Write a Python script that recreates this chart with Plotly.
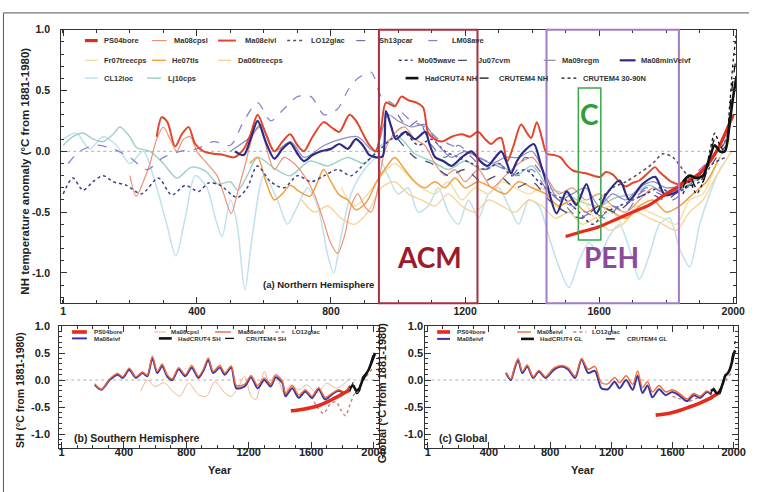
import plotly.graph_objects as go

# ======================= DATA =======================
x_ticks = [1, 400, 800, 1200, 1600, 2000]
x_tick_labels = ["1", "400", "800", "1200", "1600", "2000"]
y_ticks = [-1.0, -0.5, 0.0, 0.5, 1.0]
y_tick_labels = ["-1.0", "-0.5", "0.0", "0.5", "1.0"]

# ---------- (a) Northern Hemisphere ----------
cl12loc_year = [1, 40, 80, 120, 160, 200, 240, 280, 310, 337, 365, 395, 430, 455, 475, 500, 520, 543, 565, 600,
                640, 670, 700, 730, 760, 790, 808, 830, 860, 900, 940, 970, 1000, 1030, 1060, 1090, 1120, 1150,
                1180, 1210, 1240, 1270, 1300, 1330, 1360, 1390, 1420, 1450, 1480, 1510, 1540, 1570, 1600, 1630,
                1660, 1690, 1720, 1750, 1780, 1810, 1840, 1870, 1900, 1930, 1960, 1973]
cl12loc_val = [0.1, 0.15, 0.02, 0.12, 0.05, -0.1, 0.0, -0.3, -0.6, -0.86, -0.55, -0.2, -0.3, -0.55, -0.7, -0.4, -0.6,
               -1.14, -0.7, -0.2, -0.4, -0.6, -0.45, -0.3, -0.45, -0.85, -1.0, -0.7, -0.35, -0.15, -0.05, -0.2,
               -0.35, -0.3, -0.5, -0.45, -0.3, -0.5, -0.6, -0.4, -0.55, -0.35, -0.3, -0.45, -0.6, -0.4, -0.45,
               -0.7, -0.95, -1.12, -0.9, -0.75, -0.85, -0.7, -0.6, -0.8, -1.05, -0.85, -0.6, -0.55, -0.8, -0.95,
               -0.6, -0.35, -0.15, -0.1]

lj10cps_year = [1, 30, 60, 90, 120, 150, 170, 200, 220, 260, 300, 340, 384, 425, 463, 500, 522, 550, 581, 631, 678,
                737, 790, 850, 900, 950, 1000, 1050, 1100, 1150, 1200, 1250, 1300, 1350, 1400, 1450, 1500, 1550,
                1600, 1650, 1700, 1750, 1800, 1850, 1900, 1950, 1990]
lj10cps_val = [0.05, 0.12, 0.15, 0.1, 0.08, 0.14, 0.2, 0.12, 0.03, 0.0, -0.1, -0.22, -0.13, -0.16, -0.27, -0.25,
               -0.32, -0.2, -0.05, -0.14, -0.2, -0.08, -0.12, -0.05, -0.1, 0.05, 0.12, -0.02, -0.08, -0.15, -0.08,
               -0.15, -0.1, -0.2, -0.12, -0.3, -0.35, -0.42, -0.45, -0.38, -0.35, -0.28, -0.35, -0.3, -0.2, 0.0, 0.1]

fr07_year = [831, 870, 910, 950, 990, 1030, 1070, 1110, 1150, 1190, 1230, 1270, 1310, 1350, 1390, 1430, 1470, 1510,
             1550, 1590, 1630, 1670, 1710, 1750, 1790, 1830, 1870, 1910, 1950, 1990]
fr07_val = [-0.3, -0.45, -0.35, -0.2, -0.1, -0.2, -0.3, -0.35, -0.25, -0.4, -0.3, -0.35, -0.25, -0.3, -0.35, -0.3,
            -0.45, -0.5, -0.4, -0.55, -0.45, -0.6, -0.45, -0.5, -0.55, -0.6, -0.4, -0.35, -0.1, 0.1]

da06_year = [713, 750, 790, 830, 870, 910, 950, 990, 1030, 1070, 1110, 1150, 1190, 1230, 1270, 1310, 1350, 1390,
             1430, 1470, 1510, 1550, 1590, 1630, 1670, 1710, 1750, 1790, 1830, 1870, 1910, 1950, 1995]
da06_val = [-0.4, -0.5, -0.45, -0.55, -0.6, -0.5, -0.3, -0.25, -0.35, -0.4, -0.45, -0.35, -0.45, -0.5, -0.4, -0.45,
            -0.5, -0.4, -0.45, -0.55, -0.5, -0.6, -0.55, -0.65, -0.6, -0.5, -0.55, -0.6, -0.65, -0.5, -0.4, -0.2, 0.0]

he07_year = [558, 581, 606, 631, 655, 678, 705, 737, 760, 778, 800, 825, 850, 874, 895, 914, 934, 960, 990, 1020,
             1050, 1080, 1110, 1140, 1170, 1200, 1240, 1280, 1320, 1360, 1400, 1440, 1480, 1520, 1560, 1600, 1640,
             1680, 1720, 1760, 1800, 1840, 1880, 1920, 1960]
he07_val = [-0.1, -0.05, -0.25, -0.4, -0.35, -0.28, -0.33, -0.37, -0.25, -0.15, -0.25, -0.36, -0.4, -0.48, -0.45,
            -0.38, -0.26, -0.15, -0.05, -0.15, -0.25, -0.3, -0.25, -0.3, -0.22, -0.3, -0.25, -0.3, -0.35, -0.25,
            -0.3, -0.35, -0.45, -0.4, -0.5, -0.45, -0.5, -0.55, -0.45, -0.4, -0.5, -0.45, -0.35, -0.25, -0.05]

mo05_year = [1, 30, 60, 90, 120, 150, 190, 235, 285, 325, 365, 405, 435, 470, 520, 550, 580, 620, 660, 700, 740,
             780, 820, 860, 900, 940, 980, 1020, 1060, 1100, 1140, 1180, 1220, 1260, 1300, 1340, 1380, 1420, 1460,
             1500, 1540, 1580, 1620, 1660, 1700, 1740, 1780, 1820, 1860, 1900, 1940, 1979]
mo05_val = [-0.35, -0.22, -0.32, -0.25, -0.2, -0.25, -0.28, -0.35, -0.22, -0.36, -0.28, -0.33, -0.26, -0.28, -0.38,
            -0.3, -0.12, -0.25, -0.3, -0.2, -0.25, -0.2, -0.15, -0.2, -0.1, 0.0, 0.1, 0.15, 0.05, 0.1, 0.0, -0.05,
            -0.1, -0.15, -0.1, -0.2, -0.15, -0.25, -0.35, -0.4, -0.5, -0.6, -0.5, -0.45, -0.4, -0.35, -0.3, -0.35,
            -0.3, -0.25, -0.1, -0.05]

lm08_year = [16, 50, 100, 150, 200, 250, 300, 350, 400, 450, 500, 540, 581, 620, 660, 700, 740, 780, 820, 850, 880,
             920, 950, 980, 1000, 1040, 1080, 1120, 1160, 1200, 1240, 1280, 1320, 1360, 1400, 1440, 1480, 1520,
             1560, 1600, 1640, 1680, 1720, 1760, 1800, 1840, 1880, 1920, 1935]
lm08_val = [-0.1, 0.0, 0.05, 0.02, -0.05, -0.15, -0.05, 0.0, 0.02, 0.08, 0.05, 0.25, 0.4, 0.25, 0.35, 0.45, 0.45,
            0.3, 0.35, 0.5, 0.6, 0.65, 0.45, 0.4, 0.35, 0.25, 0.2, 0.1, 0.05, 0.0, -0.05, -0.1, -0.15, -0.2, -0.15,
            -0.3, -0.4, -0.45, -0.5, -0.55, -0.45, -0.5, -0.35, -0.3, -0.35, -0.3, -0.2, -0.1, -0.05]

ju07_year = [1000, 1050, 1100, 1150, 1200, 1250, 1300, 1350, 1400, 1450, 1500, 1550, 1600, 1650, 1700, 1750, 1800,
             1850, 1900, 1950, 1980]
ju07_val = [0.1, -0.05, -0.1, -0.2, -0.15, -0.25, -0.2, -0.3, -0.25, -0.4, -0.5, -0.55, -0.45, -0.5, -0.4, -0.35,
            -0.4, -0.3, -0.25, -0.05, 0.05]

sh13_year = [1000, 1030, 1060, 1100, 1140, 1180, 1220, 1260, 1300, 1340, 1380, 1420, 1460, 1500, 1540, 1580, 1620,
             1660, 1700, 1740, 1780, 1820, 1860, 1900, 1940, 1970, 1995]
sh13_val = [0.3, 0.2, 0.25, 0.05, -0.05, 0.05, -0.05, -0.15, -0.1, -0.2, -0.05, -0.15, -0.35, -0.45, -0.55, -0.5,
            -0.55, -0.45, -0.4, -0.3, -0.35, -0.4, -0.3, -0.2, 0.0, 0.05, 0.25]

ma08cpsl_nh_year = [200, 219, 240, 260, 280, 300, 320, 340, 360, 380, 400, 430, 460, 480, 502, 525, 545, 570, 590,
                    610, 631, 660, 690, 720, 750, 775, 800, 820, 840, 860, 880, 900, 920, 940, 960, 990, 1020, 1050,
                    1080, 1110, 1140, 1170, 1200, 1240, 1280, 1320, 1360, 1400, 1440, 1480, 1520, 1560, 1600, 1640,
                    1680, 1720, 1760, 1800, 1840, 1850]
ma08cpsl_nh_val = [-0.2, -0.37, -0.25, -0.1, 0.1, 0.2, 0.1, 0.0, 0.1, 0.12, 0.0, -0.1, -0.2, -0.35, -0.51, -0.3,
                   -0.1, 0.15, 0.2, 0.0, -0.15, -0.05, -0.1, -0.2, -0.35, -0.55, -0.76, -0.84, -0.7, -0.45, -0.35,
                   -0.45, -0.5, -0.3, 0.0, 0.15, 0.2, 0.1, 0.05, -0.1, -0.2, -0.15, -0.25, -0.15, -0.3, -0.2, -0.1,
                   -0.05, -0.2, -0.35, -0.3, -0.4, -0.35, -0.45, -0.5, -0.4, -0.3, -0.35, -0.3, -0.25]

ma09regm_year = [500, 560, 590, 630, 680, 720, 780, 830, 880, 930, 970, 1000, 1040, 1080, 1120, 1160, 1200, 1240,
                 1280, 1320, 1360, 1400, 1440, 1480, 1520, 1560, 1600, 1640, 1680, 1720, 1760, 1800, 1849]
ma09regm_val = [0.0, 0.12, 0.22, 0.0, 0.08, -0.05, 0.05, 0.1, 0.12, 0.0, 0.3, 0.25, 0.2, 0.22, 0.05, -0.05, 0.0,
                -0.05, -0.1, -0.05, -0.05, 0.0, -0.2, -0.4, -0.35, -0.3, -0.45, -0.35, -0.4, -0.3, -0.25, -0.3,
                -0.28]

lo12_nh_year = [1600, 1640, 1680, 1720, 1760, 1790, 1820, 1850, 1880, 1910, 1940, 1970, 1990]
lo12_nh_val = [-0.4, -0.3, -0.25, -0.18, -0.1, -0.02, -0.05, -0.15, -0.25, -0.2, -0.05, 0.05, 0.2]

ma08eivl_nh_year = [280, 295, 312, 335, 355, 375, 395, 420, 450, 480, 510, 540, 560, 581, 605, 631, 655, 678, 700,
                    719, 745, 778, 800, 825, 855, 875, 896, 915, 934, 950, 964, 990, 1010, 1031, 1055, 1075, 1090,
                    1110, 1131, 1160, 1190, 1215, 1238, 1260, 1278, 1295, 1308, 1326, 1345, 1367, 1385, 1397, 1414,
                    1430, 1444, 1465, 1485, 1505, 1523, 1560, 1603, 1620, 1640, 1660, 1679, 1700, 1720, 1745, 1767,
                    1780, 1797, 1815, 1838, 1850]
ma08eivl_nh_val = [0.12, 0.28, 0.24, 0.04, 0.14, 0.2, 0.06, 0.0, -0.02, -0.03, -0.05, 0.02, 0.14, 0.3, 0.15, 0.0,
                   0.08, 0.14, 0.05, 0.0, 0.12, 0.24, 0.2, 0.16, 0.3, 0.25, 0.14, 0.05, 0.0, 0.2, 0.4, 0.37, 0.45,
                   0.42, 0.4, 0.36, 0.15, 0.1, 0.08, 0.12, 0.14, 0.12, 0.16, 0.1, 0.06, 0.1, 0.11, -0.08, 0.05,
                   0.22, 0.15, 0.11, 0.24, 0.1, -0.02, -0.03, -0.05, -0.12, -0.16, -0.18, -0.21, -0.17, -0.19,
                   -0.25, -0.29, -0.26, -0.24, -0.18, -0.13, -0.17, -0.21, -0.25, -0.27, -0.25]

ma08minv_nh_year = [513, 540, 560, 581, 605, 631, 655, 678, 700, 719, 745, 770, 800, 825, 850, 874, 895, 914, 935,
                    954, 964, 980, 994, 1022, 1051, 1081, 1095, 1111, 1135, 1160, 1190, 1219, 1245, 1267, 1290, 1308,
                    1325, 1337, 1355, 1376, 1405, 1425, 1444, 1473, 1503, 1532, 1562, 1591, 1620, 1661, 1690, 1729,
                    1767, 1797, 1838, 1850]
ma08minv_nh_val = [0.0, -0.03, 0.1, 0.25, 0.08, -0.06, 0.02, 0.07, -0.02, -0.08, -0.03, 0.0, 0.02, 0.06, 0.02, 0.1,
                   0.05, -0.03, -0.05, -0.04, 0.33, 0.2, 0.1, 0.16, 0.1, 0.16, 0.05, -0.05, -0.08, -0.12, -0.05, 0.0,
                   -0.08, -0.12, -0.05, 0.0, -0.1, -0.18, -0.08, 0.0, 0.06, -0.1, -0.27, -0.51, -0.33, -0.44, -0.27,
                   -0.51, -0.36, -0.24, -0.4, -0.27, -0.21, -0.36, -0.32, -0.25]

ps04_nh_year = [1500, 1550, 1600, 1650, 1700, 1750, 1800, 1850, 1900, 1950, 2000]
ps04_nh_val = [-0.70, -0.66, -0.62, -0.56, -0.50, -0.44, -0.35, -0.27, -0.18, 0.0, 0.3]

hadcrut_nh_year = [1850, 1870, 1890, 1910, 1930, 1945, 1960, 1975, 1990, 2000, 2010]
hadcrut_nh_val = [-0.25, -0.2, -0.22, -0.2, -0.05, 0.05, 0.0, 0.0, 0.25, 0.45, 0.62]
crutem_nh_year = [1850, 1870, 1890, 1910, 1930, 1945, 1960, 1975, 1990, 2000, 2010]
crutem_nh_val = [-0.3, -0.2, -0.3, -0.25, -0.05, 0.1, 0.0, 0.0, 0.35, 0.6, 0.8]
crutem3090_year = [1850, 1870, 1890, 1910, 1930, 1945, 1960, 1975, 1990, 2000, 2010]
crutem3090_val = [-0.35, -0.25, -0.35, -0.25, 0.0, 0.15, 0.05, 0.0, 0.4, 0.75, 0.98]

# ---------- (b) Southern Hemisphere ----------
ps04_sh_year = [1470, 1550, 1640, 1720, 1800, 1850]
ps04_sh_val = [-0.57, -0.54, -0.48, -0.38, -0.26, -0.18]
ma08cpsl_sh_year = [509, 550, 598, 660, 709, 760, 814, 877, 930, 983, 1047, 1088, 1130, 1173, 1215, 1246, 1300,
                    1331, 1373, 1426, 1468, 1521, 1573, 1637, 1700, 1763, 1827, 1848]
ma08cpsl_sh_val = [-0.2, 0.0, -0.12, -0.05, -0.2, -0.3, -0.05, -0.27, -0.3, -0.03, -0.24, -0.3, -0.15, 0.07, -0.3,
                   -0.36, 0.16, -0.05, 0.1, -0.24, -0.09, -0.18, -0.09, -0.24, -0.06, -0.15, -0.03, 0.04]
ma08eivf_sh_year = [213, 255, 308, 360, 392, 434, 477, 519, 550, 582, 614, 645, 677, 709, 751, 793, 835, 877, 909,
                    941, 972, 1015, 1047, 1088, 1120, 1173, 1215, 1257, 1300, 1341, 1373, 1415, 1436, 1479, 1521,
                    1563, 1605, 1648, 1690, 1732, 1775, 1816, 1848]
ma08eivf_sh_val = [-0.09, -0.18, 0.0, 0.1, 0.04, 0.19, 0.04, 0.13, 0.07, 0.4, 0.13, 0.26, 0.07, 0.0, 0.2, 0.07,
                   0.23, 0.04, 0.17, 0.37, 0.13, 0.23, 0.1, 0.23, -0.15, -0.12, 0.05, -0.15, 0.0, -0.12, 0.05, -0.05,
                   -0.3, -0.15, -0.33, -0.21, -0.33, -0.17, -0.36, -0.27, -0.2, -0.24, -0.12]
ma08eivl_sh_year = [213, 255, 308, 360, 392, 434, 477, 519, 550, 582, 614, 645, 677, 709, 751, 793, 835, 877, 909,
                    941, 972, 1015, 1047, 1088, 1120, 1173, 1215, 1257, 1300, 1341, 1373, 1415, 1436, 1479, 1521,
                    1563, 1605, 1648, 1690, 1732, 1775, 1816, 1848]
ma08eivl_sh_val = [-0.07, -0.17, 0.02, 0.12, 0.06, 0.22, 0.06, 0.15, 0.09, 0.44, 0.16, 0.3, 0.1, 0.02, 0.23, 0.1,
                   0.27, 0.07, 0.2, 0.41, 0.16, 0.27, 0.13, 0.26, -0.1, -0.08, 0.08, -0.1, 0.04, -0.08, 0.1, -0.02,
                   -0.25, -0.1, -0.28, -0.18, -0.3, -0.14, -0.32, -0.25, -0.18, -0.22, -0.1]
lo12_sh_year = [1600, 1640, 1680, 1720, 1760, 1790, 1820, 1850, 1870, 1900, 1950, 1990]
lo12_sh_val = [-0.3, -0.5, -0.62, -0.45, -0.4, -0.55, -0.66, -0.45, -0.3, -0.15, 0.05, 0.2]
hadcrut_sh_year = [1850, 1870, 1890, 1910, 1930, 1950, 1970, 1990, 2000, 2010]
hadcrut_sh_val = [-0.15, -0.1, -0.2, -0.15, 0.0, 0.1, 0.2, 0.35, 0.42, 0.5]
crutem_sh_year = [1850, 1870, 1890, 1910, 1930, 1950, 1970, 1990, 2000, 2010]
crutem_sh_val = [-0.2, -0.05, -0.25, -0.2, 0.05, 0.12, 0.2, 0.4, 0.5, 0.6]

# ---------- (c) Global ----------
ps04_gl_year = [1490, 1550, 1600, 1650, 1700, 1750, 1800, 1850, 1900]
ps04_gl_val = [-0.65, -0.63, -0.6, -0.56, -0.51, -0.46, -0.4, -0.33, -0.24]
ma08eivf_gl_year = [512, 544, 566, 591, 619, 651, 690, 727, 770, 824, 877, 920, 964, 1006, 1049, 1093, 1135, 1178,
                    1222, 1254, 1297, 1340, 1372, 1404, 1437, 1469, 1512, 1555, 1598, 1641, 1695, 1738, 1781, 1824,
                    1856]
ma08eivf_gl_val = [0.13, 0.0, 0.19, 0.37, 0.13, 0.25, 0.04, 0.16, 0.04, 0.19, 0.25, 0.19, 0.04, 0.38, 0.13, 0.17,
                   -0.15, -0.17, -0.03, -0.15, 0.0, -0.18, 0.08, -0.24, -0.1, -0.32, -0.17, -0.28, -0.22, -0.28,
                   -0.39, -0.28, -0.33, -0.22, -0.27]
ma08eivl_gl_year = [512, 544, 566, 591, 619, 651, 690, 727, 770, 824, 877, 920, 964, 1006, 1049, 1093, 1135, 1178,
                    1222, 1254, 1297, 1340, 1372, 1404, 1437, 1469, 1512, 1555, 1598, 1641, 1695, 1738, 1781, 1824,
                    1856]
ma08eivl_gl_val = [0.14, 0.02, 0.22, 0.4, 0.16, 0.28, 0.06, 0.18, 0.06, 0.22, 0.27, 0.22, 0.07, 0.4, 0.2, 0.25,
                   -0.05, -0.07, 0.05, -0.05, 0.08, -0.08, 0.17, -0.14, -0.03, -0.22, -0.1, -0.22, -0.18, -0.24,
                   -0.35, -0.25, -0.3, -0.2, -0.25]
lo12_gl_year = [1600, 1650, 1700, 1750, 1800, 1840, 1870, 1900, 1950, 1990]
lo12_gl_val = [-0.3, -0.35, -0.4, -0.35, -0.3, -0.38, -0.3, -0.2, 0.0, 0.15]
hadcrut_gl_year = [1850, 1870, 1890, 1910, 1930, 1945, 1960, 1975, 1990, 2000, 2010]
hadcrut_gl_val = [-0.2, -0.18, -0.25, -0.2, -0.05, 0.08, 0.12, 0.2, 0.35, 0.48, 0.55]
crutem_gl_year = [1850, 1870, 1890, 1910, 1930, 1945, 1960, 1975, 1990, 2000, 2010]
crutem_gl_val = [-0.25, -0.15, -0.3, -0.25, -0.05, 0.1, 0.12, 0.22, 0.42, 0.6, 0.72]

# period boxes (years / anomaly)
acm_years = [943, 1237]
peh_years = [1443, 1838]
c_years = [1538, 1605]
c_vals = [-0.73, 0.52]

# ======================= STYLE =======================
FONT = "Liberation Sans"
TXT = "#222222"
S = {
    "PS04bore": dict(color="#e42b1c", width=3.2, dash="solid"),
    "Ma08cpsl": dict(color="#ec9274", width=1.2, dash="solid"),
    "Ma08eivl": dict(color="#e2472c", width=2.0, dash="solid"),
    "LO12glac": dict(color="#555555", width=1.5, dash="dot"),
    "Sh13pcar": dict(color="#6f6fb0", width=1.2, dash="dash"),
    "LM08ave": dict(color="#8a80d0", width=1.3, dash="dash"),
    "Fr07treecps": dict(color="#f2e0a0", width=1.4, dash="solid"),
    "He07tls": dict(color="#f1a040", width=1.5, dash="solid"),
    "Da06treecps": dict(color="#f6d49c", width=1.4, dash="solid"),
    "Mo05wave": dict(color="#3b3f8c", width=1.5, dash="dot"),
    "Ju07cvm": dict(color="#4d4d80", width=1.3, dash="dash"),
    "Ma09regm": dict(color="#8a8abd", width=1.2, dash="solid"),
    "Ma08minVeivf": dict(color="#2e2a85", width=2.2, dash="solid"),
    "CL12loc": dict(color="#c0e1ee", width=1.5, dash="solid"),
    "Lj10cps": dict(color="#9fd2c8", width=1.5, dash="solid"),
    "HadCRUT4": dict(color="#111111", width=2.6, dash="solid"),
    "CRUTEM4": dict(color="#111111", width=1.3, dash="dash"),
    "CRUTEM4d": dict(color="#111111", width=1.3, dash="dot"),
    "Ma08eivf": dict(color="#3a36a0", width=2.0, dash="solid"),
    "Ma08cpsl_s": dict(color="#f0b494", width=1.0, dash="solid"),
    "Ma08eivl_s": dict(color="#f0683a", width=1.4, dash="solid"),
    "LO12glac_s": dict(color="#c08078", width=1.4, dash="dot"),
    "PS04bore_s": dict(color="#e42b1c", width=3.6, dash="solid"),
}

fig = go.Figure()


def add(x, y, style, name, xa="x", ya="y"):
    st = S[style]
    fig.add_trace(go.Scatter(x=x, y=y, mode="lines", name=name, xaxis=xa, yaxis=ya,
                             line=dict(color=st["color"], width=st["width"], dash=st["dash"],
                                       shape="spline", smoothing=0.8),
                             showlegend=False, hoverinfo="skip"))


# panel a
add(cl12loc_year, cl12loc_val, "CL12loc", "CL12loc")
add(lj10cps_year, lj10cps_val, "Lj10cps", "Lj10cps")
add(fr07_year, fr07_val, "Fr07treecps", "Fr07treecps")
add(da06_year, da06_val, "Da06treecps", "Da06treecps")
add(he07_year, he07_val, "He07tls", "He07tls")
add(ma08cpsl_nh_year, ma08cpsl_nh_val, "Ma08cpsl", "Ma08cpsl")
add(mo05_year, mo05_val, "Mo05wave", "Mo05wave")
add(lm08_year, lm08_val, "LM08ave", "LM08ave")
add(ju07_year, ju07_val, "Ju07cvm", "Ju07cvm")
add(sh13_year, sh13_val, "Sh13pcar", "Sh13pcar")
add(ma09regm_year, ma09regm_val, "Ma09regm", "Ma09regm")
add(lo12_nh_year, lo12_nh_val, "LO12glac", "LO12glac")
add(ma08eivl_nh_year, ma08eivl_nh_val, "Ma08eivl", "Ma08eivl")
add(ma08minv_nh_year, ma08minv_nh_val, "Ma08minVeivf", "Ma08minVeivf")
add(ps04_nh_year, ps04_nh_val, "PS04bore", "PS04bore")
add(crutem3090_year, crutem3090_val, "CRUTEM4d", "CRUTEM4 30-90N")
add(crutem_nh_year, crutem_nh_val, "CRUTEM4", "CRUTEM4 NH")
add(hadcrut_nh_year, hadcrut_nh_val, "HadCRUT4", "HadCRUT4 NH")

# panel b
add(ma08cpsl_sh_year, ma08cpsl_sh_val, "Ma08cpsl_s", "Ma08cpsl", "x2", "y2")
add(lo12_sh_year, lo12_sh_val, "LO12glac_s", "LO12glac", "x2", "y2")
add(ma08eivf_sh_year, ma08eivf_sh_val, "Ma08eivf", "Ma08eivf", "x2", "y2")
add(ma08eivl_sh_year, ma08eivl_sh_val, "Ma08eivl_s", "Ma08eivl", "x2", "y2")
add(ps04_sh_year, ps04_sh_val, "PS04bore_s", "PS04bore", "x2", "y2")
add(crutem_sh_year, crutem_sh_val, "CRUTEM4", "CRUTEM4 SH", "x2", "y2")
add(hadcrut_sh_year, hadcrut_sh_val, "HadCRUT4", "HadCRUT4 SH", "x2", "y2")

# panel c
add(lo12_gl_year, lo12_gl_val, "LO12glac_s", "LO12glac", "x3", "y3")
add(ma08eivf_gl_year, ma08eivf_gl_val, "Ma08eivf", "Ma08eivf", "x3", "y3")
add(ma08eivl_gl_year, ma08eivl_gl_val, "Ma08eivl_s", "Ma08eivl", "x3", "y3")
add(ps04_gl_year, ps04_gl_val, "PS04bore_s", "PS04bore", "x3", "y3")
add(crutem_gl_year, crutem_gl_val, "CRUTEM4", "CRUTEM4 GL", "x3", "y3")
add(hadcrut_gl_year, hadcrut_gl_val, "HadCRUT4", "HadCRUT4 GL", "x3", "y3")

W, H = 758, 492


def px(x):
    return x / W


def py(y):
    return 1 - y / H


def xaxis(dom, rng, tsize, standoff):
    return dict(domain=[px(dom[0]), px(dom[1])], range=rng, tickmode="array", tickvals=x_ticks,
                ticktext=x_tick_labels, ticks="inside", ticklen=6, tickwidth=1, tickcolor="#333",
                showline=True, linecolor="#333", linewidth=1, mirror="allticks", showgrid=False,
                zeroline=False, ticklabelstandoff=standoff,
                tickfont=dict(family=FONT, size=tsize, color=TXT, weight="bold"),
                minor=dict(tick0=0, dtick=100, ticks="inside", ticklen=3, tickcolor="#333", showgrid=False))


def yaxis(dom, rng, tsize, standoff):
    return dict(domain=[py(dom[1]), py(dom[0])], range=rng, tickmode="array", tickvals=y_ticks,
                ticktext=y_tick_labels, ticks="inside", ticklen=6, tickwidth=1, tickcolor="#333",
                showline=True, linecolor="#333", linewidth=1, mirror="allticks", showgrid=False,
                zeroline=False, ticklabelstandoff=standoff,
                tickfont=dict(family=FONT, size=tsize, color=TXT, weight="bold"),
                minor=dict(tick0=0, dtick=0.1, ticks="inside", ticklen=3, tickcolor="#333", showgrid=False))


shapes = []
annotations = []

# zero lines
for xr, yr in (("x", "y"), ("x2", "y2"), ("x3", "y3")):
    shapes.append(dict(type="line", xref=xr + " domain", yref=yr, x0=0, x1=1, y0=0, y1=0,
                       line=dict(color="#b0b0b0", width=1, dash="dot"), layer="below"))

# period boxes
shapes.append(dict(type="rect", xref="x", yref="y domain", x0=acm_years[0], x1=acm_years[1], y0=0, y1=1,
                   line=dict(color="#a83040", width=2)))
shapes.append(dict(type="rect", xref="x", yref="y domain", x0=peh_years[0], x1=peh_years[1], y0=0, y1=1,
                   line=dict(color="#a57cc4", width=2)))
shapes.append(dict(type="rect", xref="x", yref="y", x0=c_years[0], x1=c_years[1], y0=c_vals[0], y1=c_vals[1],
                   line=dict(color="#3aa64a", width=1.5)))

annotations.append(dict(x=1095, y=-0.87, xref="x", yref="y", text="ACM", showarrow=False,
                        font=dict(family="Lato", size=28, color="#9b1b2a", weight="bold")))
annotations.append(dict(x=1638, y=-0.87, xref="x", yref="y", text="PEH", showarrow=False,
                        font=dict(family="Lato", size=28, color="#8c4a9c", weight="bold")))
annotations.append(dict(x=1572, y=0.31, xref="x", yref="y", text="C", showarrow=False,
                        font=dict(family="Lato", size=28, color="#2e9e3e", weight="bold")))

# panel titles
annotations.append(dict(x=px(263), y=py(282), xref="paper", yref="paper", xanchor="left", yanchor="middle",
                        text="(a) Northern Hemisphere", showarrow=False,
                        font=dict(family=FONT, size=9.5, color=TXT, weight="bold")))
annotations.append(dict(x=px(72), y=py(437), xref="paper", yref="paper", xanchor="left", yanchor="middle",
                        text="(b) Southern Hemisphere", showarrow=False,
                        font=dict(family=FONT, size=10.5, color=TXT, weight="bold")))
annotations.append(dict(x=px(442), y=py(437), xref="paper", yref="paper", xanchor="left", yanchor="middle",
                        text="(c) Global", showarrow=False,
                        font=dict(family=FONT, size=10.5, color=TXT, weight="bold")))
for xc in (222, 590):
    annotations.append(dict(x=px(xc), y=py(470), xref="paper", yref="paper", xanchor="center",
                            yanchor="middle", text="Year", showarrow=False,
                            font=dict(family=FONT, size=11, color=TXT, weight="bold")))

# y-axis titles
for xc, yc, txt, fs in ((24, 167, "NH temperature anomaly (°C from 1881-1980)", 11.5),
                        (20, 389, "SH (°C from 1881-1980)", 10.5),
                        (386, 392, "Global (°C from 1881-1980)", 11)):
    annotations.append(dict(x=px(xc), y=py(yc), xref="paper", yref="paper", text=txt, textangle=-90,
                            showarrow=False, xanchor="center", yanchor="middle",
                            font=dict(family=FONT, size=fs, color=TXT, weight="bold")))

# legend keys (layout: name, style, x0, x1, text x, row y, font size)
legend_keys = [
    ("PS04bore", "PS04bore", 85, 98, 102, 35, 7.5), ("Ma08cpsl", "Ma08cpsl", 153, 168, 173, 35, 7.5),
    ("Ma08eivl", "Ma08eivl", 220, 238, 245, 35, 7.5), ("LO12glac", "LO12glac", 290, 307, 312, 35, 7.5),
    ("Sh13pcar", "Sh13pcar", 360, 375, 381, 35, 7.5), ("LM08ave", "LM08ave", 433, 448, 455, 35, 7.5),
    ("Fr07treecps", "Fr07treecps", 85, 98, 102, 55, 7.5), ("He07tls", "He07tls", 153, 167, 171, 55, 7.5),
    ("Da06treecps", "Da06treecps", 220, 233, 238, 55, 7.5),
    ("Mo05wave", "Mo05wave", 403, 417, 421, 55, 7.5), ("Ju07cvm", "Ju07cvm", 463, 477, 481, 55, 7.5),
    ("Ma09regm", "Ma09regm", 550, 562, 566, 55, 7.5), ("Ma08minVeivf", "Ma08minVeivf", 627, 643, 647, 55, 7.5),
    ("CL12loc", "CL12loc", 85, 98, 102, 73, 7.5), ("Lj10cps", "Lj10cps", 148, 162, 167, 73, 7.5),
    ("HadCRUT4 NH", "HadCRUT4", 410, 423, 428, 73, 7.5), ("CRUTEM4 NH", "CRUTEM4", 485, 499, 503, 73, 7.5),
    ("CRUTEM4 30-90N", "CRUTEM4d", 568, 583, 588, 73, 7.5),
    # panel b
    ("PS04bore", "PS04bore_s", 72, 87, 92, 330, 6.2), ("Ma08cpsl", "Ma08cpsl_s", 155, 167, 170, 330, 6.2),
    ("Ma08eivl", "Ma08eivl_s", 217, 233, 238, 330, 6.2), ("LO12glac", "LO12glac_s", 278, 290, 293, 330, 6.2),
    ("Ma08eivf", "Ma08eivf", 72, 87, 92, 336.5, 6.2), ("HadCRUT4 SH", "HadCRUT4", 160, 173, 177, 336.5, 6.2),
    ("CRUTEM4 SH", "CRUTEM4", 227, 240, 246, 336.5, 6.2),
    # panel c
    ("PS04bore", "PS04bore_s", 442, 455, 460, 330, 6.2), ("Ma08eivl", "Ma08eivl_s", 523, 537, 541, 330, 6.2),
    ("LO12glac", "LO12glac_s", 580, 593, 597, 330, 6.2),
    ("Ma08eivf", "Ma08eivf", 442, 455, 460, 337, 6.2), ("HadCRUT4 GL", "HadCRUT4", 527, 540, 544, 337, 6.2),
    ("CRUTEM4 GL", "CRUTEM4", 613, 627, 632, 337, 6.2),
]
for name, st, x0, x1, tx, yy, fs in legend_keys:
    s = S[st]
    shapes.append(dict(type="line", xref="paper", yref="paper", x0=px(x0), x1=px(x1), y0=py(yy), y1=py(yy),
                       line=dict(color=s["color"], width=s["width"], dash=s["dash"])))
    annotations.append(dict(x=px(tx), y=py(yy), xref="paper", yref="paper", xanchor="left", yanchor="middle",
                            text=name, showarrow=False,
                            font=dict(family=FONT, size=fs, color="#333", weight="bold")))

# outer frame (top and left edges)
shapes.append(dict(type="line", xref="paper", yref="paper", x0=px(2.5), x1=1, y0=py(7), y1=py(7),
                   line=dict(color="#555", width=1)))
shapes.append(dict(type="line", xref="paper", yref="paper", x0=px(2.5), x1=px(2.5), y0=py(7), y1=0,
                   line=dict(color="#555", width=1)))

fig.update_layout(
    width=W, height=H, margin=dict(l=0, r=0, t=0, b=0),
    paper_bgcolor="white", plot_bgcolor="white", showlegend=False,
    xaxis=xaxis((61, 745), [-4.9, 2008.8], 10.5, -2),
    yaxis=yaxis((24, 301), [-1.25, 1.0], 10.5, 8),
    xaxis2=xaxis((59, 383), [-14.8, 2034.8], 11, -6),
    yaxis2=yaxis((324, 447), [-1.25, 1.0], 11, 6),
    xaxis3=xaxis((430, 747), [-15.1, 2029], 11, -6),
    yaxis3=yaxis((324, 447), [-1.25, 1.0], 11, -1),
    shapes=shapes, annotations=annotations,
)
fig.layout.xaxis2.anchor = "y2"
fig.layout.yaxis2.anchor = "x2"
fig.layout.xaxis3.anchor = "y3"
fig.layout.yaxis3.anchor = "x3"

fig.write_html("out.html", config={"displayModeBar": False},
               post_script="document.body.style.margin='0';document.body.style.overflow='hidden';")
